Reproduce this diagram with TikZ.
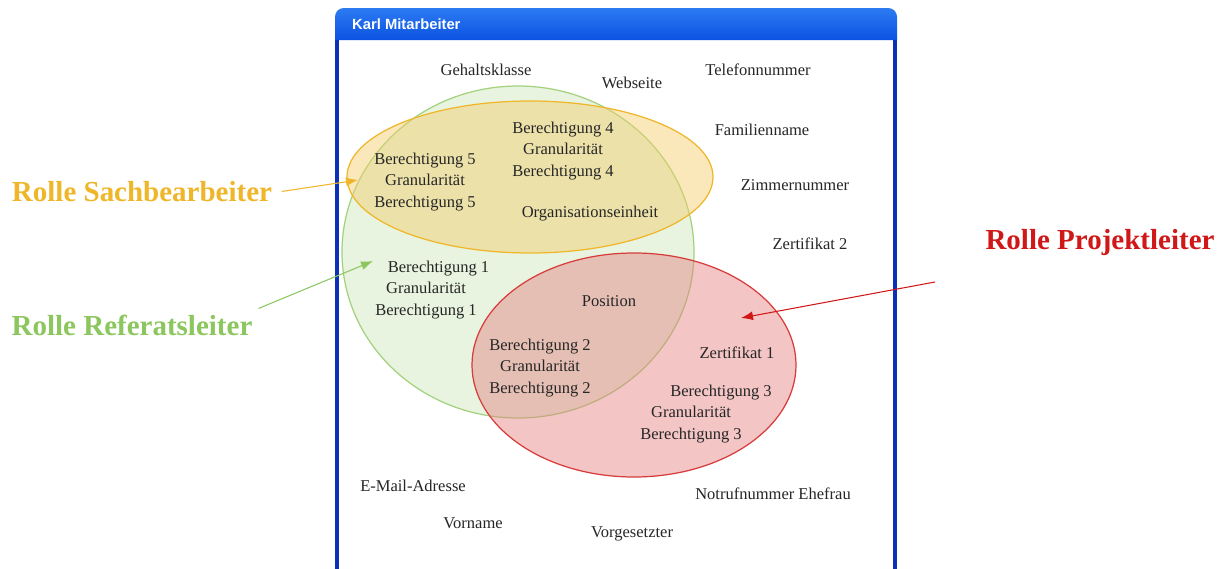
\documentclass[tikz,border=0pt]{standalone}
\usepackage{fontspec}
\setmainfont{Liberation Serif}
\newfontfamily\titlefont{Liberation Sans}
\usepackage{tikz}
\usetikzlibrary{arrows.meta}
\definecolor{winblue}{HTML}{0B52E2}
\definecolor{winblue2}{HTML}{2C7BF2}
\definecolor{frameblue}{HTML}{0A30B8}
\definecolor{refcolor}{HTML}{8CC65E}
\definecolor{sachcolor}{HTML}{F0B62A}
\definecolor{projcolor}{HTML}{D01818}

\begin{document}
\begin{tikzpicture}[>={Latex[length=2.4mm, width=1.8mm]},
    attr/.style={font=\fontsize{9.4}{12}\selectfont, text=black!85, align=center, inner sep=1pt},
    role/.style={font=\fontsize{16.5}{18}\selectfont\bfseries},
    set/.style={line width=0.7pt},
    arr/.style={->, line width=0.6pt},
]
  \useasboundingbox (0, 0) rectangle (24.54, 11.36);

  % === Window ===
  \fill[white] (6.72, -0.2) rectangle (17.92, 10.56);
  \shade[top color=winblue2, bottom color=winblue]
    (6.70, 10.56) [rounded corners=5pt] -- (6.70, 11.20) -- (17.94, 11.20)
    [sharp corners] -- (17.94, 10.56) -- cycle;
  \node[font=\titlefont\fontsize{8.4}{10}\selectfont\bfseries, text=white, anchor=west]
    (title) at (6.92, 10.87) {Karl Mitarbeiter};
  \draw[frameblue, line width=0.09cm] (6.74, 10.56) -- (6.74, -0.2);
  \draw[frameblue, line width=0.09cm] (17.90, 10.56) -- (17.90, -0.2);

  % === Role sets ===
  \draw[set, draw=refcolor!80, fill=refcolor!20] (10.36, 6.32) ellipse (3.52 and 3.32);
  \draw[set, draw=sachcolor, fill=sachcolor!70, fill opacity=0.45] (10.60, 7.82) ellipse (3.66 and 1.52);
  \draw[set, draw=projcolor!85, fill=projcolor!55, fill opacity=0.45] (12.68, 4.06) ellipse (3.24 and 2.24);

  % === Attributes ===
  \node[attr] (gehalt) at (9.72, 9.96) {Gehaltsklasse};
  \node[attr] (web) at (12.64, 9.70) {Webseite};
  \node[attr] (tel) at (15.16, 9.96) {Telefonnummer};
  \node[attr] (fam) at (15.24, 8.76) {Familienname};
  \node[attr] (zimmer) at (15.90, 7.66) {Zimmernummer};
  \node[attr] (zert2) at (16.20, 6.48) {Zertifikat 2};
  \node[attr] (b4) at (11.26, 8.34) {Berechtigung 4\\Granularität\\Berechtigung 4};
  \node[attr] (b5) at (8.50, 7.72) {Berechtigung 5\\Granularität\\Berechtigung 5};
  \node[attr] (orga) at (11.80, 7.08) {Organisationseinheit};
  \node[attr] (b1) at (8.52, 5.56) {\hspace*{0.5cm}Berechtigung 1\\Granularität\\Berechtigung 1};
  \node[attr] (pos) at (12.18, 5.34) {Position};
  \node[attr] (b2) at (10.80, 4.00) {Berechtigung 2\\Granularität\\Berechtigung 2};
  \node[attr] (zert1) at (14.74, 4.30) {Zertifikat 1};
  \node[attr] (b3) at (13.82, 3.08) {\hspace*{1.2cm}Berechtigung 3\\Granularität\\Berechtigung 3};
  \node[attr] (mail) at (8.26, 1.64) {E-Mail-Adresse};
  \node[attr] (notruf) at (15.46, 1.48) {Notrufnummer Ehefrau};
  \node[attr] (vorname) at (9.46, 0.90) {Vorname};
  \node[attr] (chef) at (12.64, 0.68) {Vorgesetzter};

  % === Roles ===
  \node[role, text=sachcolor] (sach) at (2.84, 7.52) {Rolle Sachbearbeiter};
  \node[role, text=refcolor] (ref) at (2.64, 4.86) {Rolle Referatsleiter};
  \node[role, text=projcolor] (proj) at (22.00, 6.50) {Rolle Projektleiter};

  \coordinate (sach_tip) at (7.16, 7.76);
  \coordinate (ref_tip) at (7.46, 6.14);
  \coordinate (proj_from) at (18.70, 5.72);
  \coordinate (proj_tip) at (14.82, 5.00);

  % === Arrows ===
  \draw[arr, sachcolor, shorten <=2pt] (sach.east) -- (sach_tip);
  \draw[arr, refcolor] (ref.north east) -- (ref_tip);
  \draw[arr, projcolor] (proj_from) -- (proj_tip);
\end{tikzpicture}
\end{document}
